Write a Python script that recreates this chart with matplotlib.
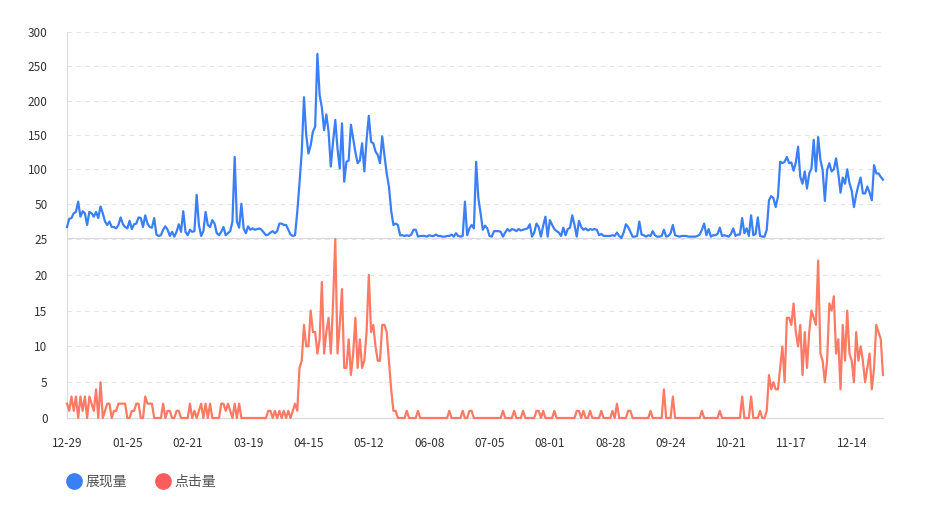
import numpy as np
import pandas as pd
import matplotlib
matplotlib.use("Agg")
import matplotlib.pyplot as plt
from matplotlib.lines import Line2D

plt.rcParams["font.family"] = ["Noto Sans CJK SC", "DejaVu Sans"]

# daily data, 2023-12-29 .. 2024-12-28
dates = pd.date_range("2023-12-29", periods=366, freq="D")

impressions = [
    16, 28, 29, 36, 38, 53, 31, 39, 36, 19,
    38, 36, 31, 38, 29, 46, 36, 24, 19, 24,
    16, 16, 14, 19, 30, 20, 16, 14, 25, 13,
    20, 21, 30, 29, 16, 33, 21, 16, 15, 29,
    5, 3, 4, 12, 17, 12, 3, 9, 2, 9,
    20, 9, 39, 9, 4, 12, 9, 10, 63, 19,
    3, 10, 38, 19, 16, 26, 21, 7, 4, 9,
    16, 4, 7, 10, 24, 118, 24, 15, 50, 14,
    7, 17, 12, 14, 12, 13, 14, 12, 8, 4,
    5, 8, 10, 7, 10, 21, 21, 19, 19, 12,
    5, 3, 4, 38, 80, 125, 205, 150, 123, 135,
    155, 162, 268, 208, 190, 157, 180, 155, 104, 140,
    172, 130, 101, 167, 82, 111, 113, 165, 145, 125,
    109, 113, 138, 97, 143, 178, 140, 138, 126, 121,
    109, 148, 120, 94, 75, 40, 19, 21, 19, 4,
    4, 3, 4, 3, 5, 12, 12, 2, 3, 3,
    3, 2, 4, 3, 3, 5, 3, 3, 2, 2,
    3, 3, 5, 2, 7, 3, 2, 3, 53, 4,
    14, 19, 14, 111, 58, 36, 12, 18, 14, 3,
    2, 10, 10, 10, 9, 2, 8, 13, 10, 13,
    12, 10, 13, 11, 12, 13, 14, 20, 2, 8,
    21, 16, 2, 18, 31, 2, 26, 19, 13, 10,
    8, 3, 15, 4, 13, 15, 33, 19, 2, 25,
    16, 12, 14, 11, 13, 12, 13, 12, 4, 6,
    3, 3, 3, 3, 4, 3, 8, 3, 0, 8,
    20, 16, 9, 2, 2, 3, 24, 5, 4, 2,
    4, 3, 10, 4, 2, 2, 3, 12, 2, 3,
    7, 19, 4, 3, 2, 3, 3, 3, 2, 2,
    2, 2, 3, 5, 12, 21, 4, 13, 2, 4,
    4, 6, 15, 3, 4, 3, 2, 6, 14, 3,
    5, 5, 29, 7, 14, 3, 33, 4, 6, 30,
    3, 2, 2, 12, 55, 61, 58, 45, 60, 111,
    109, 111, 118, 109, 110, 98, 110, 133, 89, 79,
    97, 72, 94, 101, 143, 97, 147, 114, 99, 54,
    99, 109, 97, 100, 116, 94, 66, 88, 79, 100,
    80, 69, 45, 63, 77, 88, 65, 65, 75, 66,
    55, 106, 94, 94, 89, 85,
]

clicks = [
    2, 1, 3, 1, 3, 0, 3, 1, 3, 0,
    3, 2, 1, 4, 0, 5, 0, 1, 2, 2,
    0, 1, 1, 2, 2, 2, 2, 0, 0, 1,
    1, 2, 2, 0, 0, 3, 2, 2, 2, 0,
    0, 0, 0, 2, 0, 1, 1, 0, 0, 1,
    1, 0, 0, 0, 0, 2, 0, 1, 0, 1,
    2, 0, 2, 0, 2, 0, 0, 0, 0, 2,
    2, 1, 2, 1, 0, 2, 0, 2, 0, 0,
    0, 0, 0, 0, 0, 0, 0, 0, 0, 0,
    1, 1, 0, 1, 0, 1, 0, 1, 0, 1,
    0, 1, 2, 1, 7, 8, 13, 10, 10, 15,
    12, 12, 9, 11, 19, 9, 12, 14, 9, 16,
    25, 9, 13, 18, 7, 7, 11, 6, 9, 14,
    7, 11, 7, 8, 12, 20, 12, 13, 10, 8,
    8, 13, 13, 12, 8, 4, 1, 1, 0, 0,
    0, 0, 1, 0, 0, 0, 0, 1, 0, 0,
    0, 0, 0, 0, 0, 0, 0, 0, 0, 0,
    0, 1, 0, 0, 0, 0, 0, 1, 0, 0,
    1, 1, 0, 0, 0, 0, 0, 0, 0, 0,
    0, 0, 0, 0, 0, 1, 0, 0, 0, 0,
    1, 0, 0, 0, 1, 0, 0, 0, 0, 0,
    1, 1, 0, 1, 0, 0, 0, 0, 1, 0,
    0, 0, 0, 0, 0, 0, 0, 0, 1, 1,
    0, 1, 0, 0, 1, 0, 0, 0, 0, 1,
    0, 0, 0, 0, 1, 0, 2, 0, 0, 0,
    0, 1, 1, 0, 0, 0, 0, 0, 0, 0,
    0, 1, 0, 0, 0, 0, 0, 4, 0, 0,
    0, 3, 0, 0, 0, 0, 0, 0, 0, 0,
    0, 0, 0, 0, 1, 0, 0, 0, 0, 0,
    0, 0, 1, 0, 0, 0, 0, 0, 0, 0,
    0, 0, 3, 0, 0, 0, 3, 0, 0, 0,
    1, 0, 0, 1, 6, 4, 5, 4, 4, 7,
    10, 5, 14, 14, 13, 16, 12, 10, 13, 6,
    12, 7, 12, 15, 14, 13, 22, 9, 8, 5,
    8, 16, 15, 17, 9, 11, 4, 13, 8, 15,
    9, 8, 5, 12, 8, 10, 8, 5, 7, 9,
    4, 7, 13, 12, 11, 6,
]

series_names = ["展现量", "点击量"]
top_ticks = [50, 100, 150, 200, 250, 300]
bottom_ticks = [0, 5, 10, 15, 20, 25]
label_every = 27

BLUE = "#3b7ff7"
RED = "#ff7a63"
RED_LEGEND = "#fc5c5b"
GRID = "#e2e4e8"
AXIS = "#d9dbe0"
TXT = "#333333"

x = np.arange(len(dates))

fig = plt.figure(figsize=(9.27, 5.13), dpi=100, facecolor="white")
ax_top = fig.add_axes([67 / 927, 1 - 238 / 513, 816 / 927, 206 / 513])
ax_bot = fig.add_axes([67 / 927, 1 - 418 / 513, 816 / 927, 179 / 513])


def style(ax, ticks, lim):
    ax.set_xlim(0, len(dates) - 1)
    ax.set_ylim(0, lim)
    ax.set_yticks(ticks)
    ax.set_yticklabels([str(t) for t in ticks])
    for t in ticks:
        if t == 0:
            continue
        ax.axhline(t, color=GRID, lw=0.8, dashes=(4, 4), zorder=0)
    for s in ["top", "right"]:
        ax.spines[s].set_visible(False)
    ax.spines["left"].set_color(AXIS)
    ax.spines["bottom"].set_color(AXIS)
    ax.spines["left"].set_linewidth(0.8)
    ax.spines["bottom"].set_linewidth(0.9)
    ax.tick_params(axis="y", length=0, pad=14, labelsize=8.5, labelcolor=TXT)


style(ax_top, top_ticks, 300)
style(ax_bot, bottom_ticks, 25)

ax_top.plot(x, impressions, color=BLUE, lw=1.6, clip_on=False, zorder=3)
ax_bot.plot(x, clicks, color=RED, lw=1.6, clip_on=False, zorder=3)

ax_top.set_xticks([])
tick_pos = x[::label_every]
ax_bot.set_xticks(tick_pos)
ax_bot.set_xticklabels([d.strftime("%m-%d") for d in dates[::label_every]])
ax_bot.tick_params(axis="x", length=0, pad=14, labelsize=8.5, labelcolor=TXT)

handles = [
    Line2D([], [], marker="o", ls="", markersize=11, color=BLUE),
    Line2D([], [], marker="o", ls="", markersize=11, color=RED_LEGEND),
]
fig.legend(handles, series_names, loc="center left", bbox_to_anchor=(55 / 927, 1 - 482 / 513),
           ncol=2, frameon=False, fontsize=10, handletextpad=0.3, columnspacing=2.1,
           labelcolor="#555555", handlelength=1.0)

fig.savefig("out.png", dpi=100, facecolor="white")
